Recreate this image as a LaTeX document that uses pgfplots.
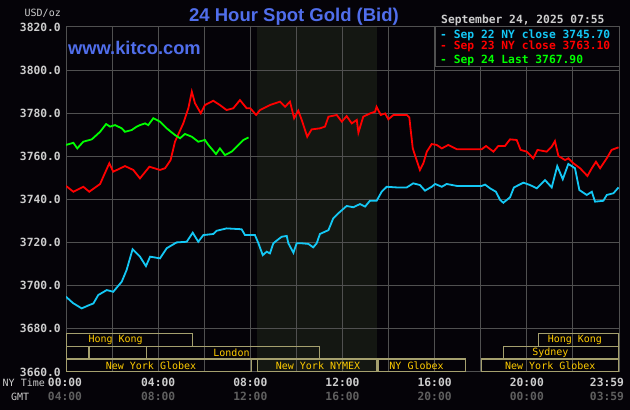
\documentclass[border=0pt]{standalone}
\usepackage{pgfplots}
\pgfplotsset{compat=1.18}
\usepackage{fontspec}
\setmainfont{Liberation Sans}
\newfontfamily\mono{DejaVu Sans Mono}
\definecolor{bg}{RGB}{5,3,8}
\definecolor{gridc}{RGB}{80,80,80}
\definecolor{shadec}{RGB}{20,23,18}
\definecolor{txt}{RGB}{205,205,205}
\definecolor{gmt}{RGB}{95,95,95}
\definecolor{kitblue}{RGB}{80,110,235}
\definecolor{cyanl}{RGB}{20,200,245}
\definecolor{boxc}{RGB}{165,160,110}
\definecolor{sess}{RGB}{255,204,0}
\newcommand{\tk}{\mono\bfseries\fontsize{11.3}{13}\selectfont}
\newcommand{\sm}{\mono\fontsize{10}{12}\selectfont}

\pgfplotstableread{
h v
0.00 3694.9
0.30 3692.0
0.68 3689.5
1.00 3691.0
1.19 3691.8
1.40 3695.7
1.77 3698.0
2.05 3697.2
2.42 3701.9
2.63 3707.3
2.89 3716.9
3.21 3713.5
3.47 3709.1
3.65 3713.5
4.08 3712.7
4.37 3717.4
4.80 3720.1
5.24 3720.4
5.50 3724.6
5.74 3720.4
5.96 3723.5
6.39 3724.0
6.54 3725.5
6.97 3726.6
7.62 3726.2
7.77 3723.5
8.20 3723.5
8.35 3719.7
8.54 3714.2
8.71 3715.8
8.85 3715.0
9.00 3719.7
9.21 3721.5
9.36 3722.7
9.58 3723.1
9.65 3719.7
9.87 3715.3
10.01 3719.7
10.23 3719.7
10.52 3719.4
10.73 3717.8
10.88 3719.7
11.02 3724.0
11.39 3725.8
11.60 3731.3
11.82 3733.6
12.18 3737.0
12.47 3736.4
12.76 3737.9
12.98 3736.7
13.19 3739.4
13.48 3739.4
13.70 3743.6
13.92 3745.9
14.35 3745.6
14.79 3745.6
15.07 3747.5
15.36 3746.7
15.58 3744.1
15.87 3745.9
16.02 3747.2
16.31 3745.9
16.52 3747.2
16.96 3746.3
18.04 3746.3
18.19 3746.9
18.40 3745.2
18.66 3743.6
18.84 3739.8
18.98 3738.5
19.27 3741.0
19.44 3745.6
19.85 3747.8
20.14 3746.7
20.43 3745.2
20.79 3749.0
21.08 3745.6
21.32 3755.5
21.56 3749.4
21.80 3756.5
22.09 3754.5
22.28 3744.4
22.60 3742.1
22.82 3743.6
22.96 3739.0
23.32 3739.4
23.47 3742.1
23.76 3742.9
23.98 3745.6
}\sepA

\pgfplotstableread{
h v
0.00 3746.3
0.32 3743.6
0.75 3745.9
1.01 3743.6
1.48 3747.2
1.62 3750.6
1.88 3756.8
2.05 3752.9
2.56 3755.5
2.92 3753.7
3.21 3749.8
3.62 3755.2
4.08 3753.7
4.30 3754.5
4.54 3758.3
4.73 3766.8
5.09 3775.3
5.31 3782.3
5.46 3790.0
5.60 3784.6
5.85 3780.0
6.03 3783.8
6.39 3785.8
6.68 3783.8
6.97 3781.5
7.26 3782.3
7.55 3786.1
7.84 3782.3
8.00 3782.3
8.25 3779.2
8.42 3781.5
8.85 3783.8
9.29 3785.4
9.51 3783.0
9.72 3785.4
9.90 3777.7
10.08 3781.2
10.23 3776.9
10.47 3769.1
10.66 3772.5
11.02 3773.0
11.24 3773.8
11.39 3778.4
11.75 3779.2
11.97 3776.1
12.18 3778.7
12.40 3775.3
12.62 3776.9
12.69 3771.0
12.90 3778.4
13.19 3779.9
13.41 3780.7
13.48 3783.0
13.66 3779.2
13.85 3779.9
13.99 3777.2
14.21 3779.2
14.79 3779.2
14.90 3778.1
14.96 3772.2
15.05 3763.7
15.19 3759.1
15.36 3753.7
15.51 3756.8
15.66 3762.2
15.87 3765.7
16.09 3765.3
16.31 3763.7
16.59 3765.3
16.96 3763.3
18.04 3763.3
18.23 3764.8
18.55 3762.2
18.76 3764.8
19.05 3764.8
19.27 3767.9
19.56 3767.6
19.73 3763.0
20.00 3762.2
20.28 3759.1
20.46 3763.0
20.86 3762.2
21.08 3764.5
21.22 3767.1
21.37 3760.2
21.66 3758.3
21.80 3759.1
22.02 3756.8
22.31 3754.5
22.63 3750.9
22.82 3754.5
23.00 3757.5
23.18 3754.5
23.47 3759.1
23.68 3763.0
23.98 3764.2
}\sepB

\pgfplotstableread{
h v
0.00 3765.3
0.32 3766.3
0.49 3763.7
0.75 3766.8
1.12 3767.9
1.48 3771.4
1.74 3775.0
1.91 3773.8
2.13 3774.5
2.42 3773.0
2.56 3771.4
2.85 3772.2
3.07 3773.8
3.21 3774.5
3.43 3775.3
3.57 3774.5
3.79 3777.7
4.08 3776.1
4.37 3773.0
4.73 3769.9
4.95 3768.4
5.16 3770.4
5.46 3769.1
5.74 3766.8
6.03 3767.6
6.18 3765.3
6.51 3761.1
6.68 3763.7
6.90 3760.6
7.19 3762.2
7.41 3764.5
7.70 3767.6
7.92 3768.8
}\sepC

\begin{document}
\begin{tikzpicture}
\fill[bg] (0pt,0pt) rectangle (630pt,410pt);
% NYMEX session band 08:20-13:30 (1 h = 553/24 pt)
\fill[shadec] (257.25pt,38pt) rectangle (377.06pt,383pt);
\begin{axis}[
  at={(66pt,38pt)}, anchor=south west,
  scale only axis, width=553pt, height=345pt,
  xmin=0, xmax=24, ymin=3660, ymax=3820,
  axis line style={gridc, line width=1pt},
  xtick={2,4,...,22}, xticklabels={},
  ytick={3660,3680,...,3820},
  yticklabels={3660.0,3680.0,3700.0,3720.0,3740.0,3760.0,3780.0,3800.0,3820.0},
  major tick length=0pt,
  grid=major, grid style={gridc, line width=1pt},
  yticklabel style={font=\tk, text=txt, inner sep=0pt, xshift=-5pt},
]
\addplot[cyanl, line width=1.8pt] table[x=h,y=v] {\sepA};
\addplot[red, line width=1.8pt] table[x=h,y=v] {\sepB};
\addplot[green, line width=1.8pt] table[x=h,y=v] {\sepC};
% session boxes
\draw[boxc, line width=1.2pt] (axis cs:0,3672) rectangle (axis cs:5.5,3678);
\draw[boxc, line width=1.2pt] (axis cs:20.5,3672) rectangle (axis cs:24,3678);
\draw[boxc, line width=1.2pt] (axis cs:0,3666) rectangle (axis cs:1,3672);
\draw[boxc, line width=1.2pt] (axis cs:3.5,3666) rectangle (axis cs:11,3672);
\draw[boxc, line width=1.2pt] (axis cs:19,3666) rectangle (axis cs:24,3672);
\draw[boxc, line width=1.2pt] (axis cs:0,3660) rectangle (axis cs:8.05,3666);
\draw[boxc, line width=1.2pt] (axis cs:8.3,3660) rectangle (axis cs:13.48,3666);
\draw[boxc, line width=1.2pt] (axis cs:13.54,3660) rectangle (axis cs:17.35,3666);
\draw[boxc, line width=1.2pt] (axis cs:18.03,3660) rectangle (axis cs:24,3666);
\node[anchor=west, inner sep=0pt, text=sess, font=\sm] at (axis cs:0.97,3675) {Hong Kong};
\node[anchor=west, inner sep=0pt, text=sess, font=\sm] at (axis cs:20.9,3675) {Hong Kong};
\node[anchor=west, inner sep=0pt, text=sess, font=\sm] at (axis cs:6.39,3669) {London};
\node[anchor=west, inner sep=0pt, text=sess, font=\sm] at (axis cs:20.23,3669) {Sydney};
\node[anchor=west, inner sep=0pt, text=sess, font=\sm] at (axis cs:1.72,3663) {New York Globex};
\node[anchor=west, inner sep=0pt, text=sess, font=\sm] at (axis cs:9.10,3663) {New York NYMEX};
\node[anchor=west, inner sep=0pt, text=sess, font=\sm] at (axis cs:14.03,3663) {NY Globex};
\node[anchor=west, inner sep=0pt, text=sess, font=\sm] at (axis cs:19.05,3663) {New York Globex};
\end{axis}
% titles
\node[anchor=base, inner sep=0pt, text=kitblue, font=\bfseries\fontsize{18.5}{22}\selectfont] at (294pt,388.3pt) {24 Hour Spot Gold (Bid)};
\node[anchor=base west, inner sep=0pt, text=kitblue, font=\bfseries\fontsize{18.3}{22}\selectfont] at (68pt,355pt) {www.kitco.com};
\node[anchor=base east, inner sep=0pt, text=txt, font=\sm] at (61pt,393.3pt) {USD/oz};
\node[anchor=base west, inner sep=0pt, text=txt, font=\tk] at (441pt,386pt) {September 24, 2025 07:55};
% legend
\draw[gridc, fill=bg, line width=1pt] (435.3pt,383pt) rectangle (619pt,343.3pt);
\node[anchor=base west, inner sep=0pt, text=cyanl, font=\tk] at (440pt,371.7pt) {- Sep 22 NY close 3745.70};
\node[anchor=base west, inner sep=0pt, text=red, font=\tk] at (440pt,360pt) {- Sep 23 NY close 3763.10};
\node[anchor=base west, inner sep=0pt, text=green, font=\tk] at (440pt,346.7pt) {- Sep 24 Last 3767.90};
% x labels
\node[anchor=base west, inner sep=0pt, text=txt, font=\sm] at (2.5pt,23.3pt) {NY Time};
\node[anchor=base west, inner sep=0pt, text=txt, font=\sm] at (11pt,9pt) {GMT};
\node[anchor=base, inner sep=0pt, font=\tk, text=txt] at (65pt,23.3pt) {00:00};
\node[anchor=base, inner sep=0pt, font=\tk, text=txt] at (158.2pt,23.3pt) {04:00};
\node[anchor=base, inner sep=0pt, font=\tk, text=txt] at (250.3pt,23.3pt) {08:00};
\node[anchor=base, inner sep=0pt, font=\tk, text=txt] at (342.5pt,23.3pt) {12:00};
\node[anchor=base, inner sep=0pt, font=\tk, text=txt] at (434.6pt,23.3pt) {16:00};
\node[anchor=base, inner sep=0pt, font=\tk, text=txt] at (526.8pt,23.3pt) {20:00};
\node[anchor=base, inner sep=0pt, font=\tk, text=txt] at (607pt,23.3pt) {23:59};
\node[anchor=base, inner sep=0pt, font=\tk, text=gmt] at (65pt,9pt) {04:00};
\node[anchor=base, inner sep=0pt, font=\tk, text=gmt] at (158.2pt,9pt) {08:00};
\node[anchor=base, inner sep=0pt, font=\tk, text=gmt] at (250.3pt,9pt) {12:00};
\node[anchor=base, inner sep=0pt, font=\tk, text=gmt] at (342.5pt,9pt) {16:00};
\node[anchor=base, inner sep=0pt, font=\tk, text=gmt] at (434.6pt,9pt) {20:00};
\node[anchor=base, inner sep=0pt, font=\tk, text=gmt] at (526.8pt,9pt) {00:00};
\node[anchor=base, inner sep=0pt, font=\tk, text=gmt] at (607pt,9pt) {03:59};
\end{tikzpicture}
\end{document}
